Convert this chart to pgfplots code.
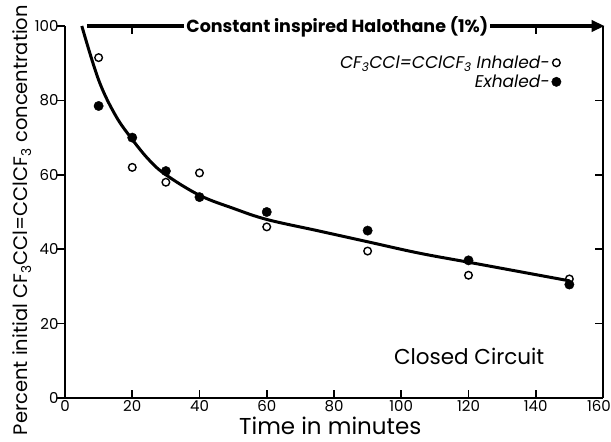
\documentclass[border=0pt]{standalone}
\usepackage{fontspec}
\setmainfont{Poppins}
\usepackage{pgfplots}
\pgfplotsset{compat=1.18}
\usetikzlibrary{arrows.meta}

\begin{document}
\begin{tikzpicture}
\begin{axis}[
  scale only axis,
  width=538pt, height=372pt,
  xmin=0, xmax=160, ymin=0, ymax=100,
  axis x line*=bottom, axis y line*=left,
  axis line style={line width=2.2pt},
  xtick={0,20,...,160}, ytick={0,20,...,100},
  xticklabels={0,20,40,60,80,100,120,140,{\hspace*{-8pt}160}},
  xtick align=inside, ytick align=outside,
  major tick length=8pt,
  every tick/.style={line width=1.6pt, black},
  tick label style={font=\fontsize{15}{17}\selectfont},
  xticklabel style={yshift=1pt},
  yticklabel style={xshift=5pt},
  /pgf/number format/assume math mode=true,
  xlabel={Time in minutes},
  ylabel={Percent initial CF\textsubscript{3}CCl=CClCF\textsubscript{3} concentration},
  xlabel style={font=\fontsize{23}{26}\selectfont,
    at={(rel axis cs:0.493,0)}, anchor=base, yshift=-36pt},
  % the label is already turned by 90 degrees, so yshift moves it sideways
  ylabel style={font=\fontsize{19.5}{22}\selectfont,
    at={(rel axis cs:0,0.478)}, anchor=base, yshift=37pt},
  clip=false,
  legend style={draw=none, fill=none, at={(axis cs:147.6,92.6)}, anchor=north east,
    font=\itshape\fontsize{17}{19}\selectfont, row sep=1pt,
    inner xsep=0pt, inner ysep=0pt},
  legend cell align=right,
  legend plot pos=right,
]
% fitted washout curve
\addplot[smooth, tension=0.6, line width=3pt, forget plot] coordinates {
  (5,100) (10,85.5) (15,76) (20,69.5) (25,64) (30,60) (40,54.5) (50,51)
  (60,48) (75,45) (90,42) (105,39) (120,36.5) (135,34) (150,31.5)};
% inhaled (open) and exhaled (filled) samples
\addplot[only marks, mark=o, mark size=3.8pt, mark options={line width=1.4pt, fill=white}]
  coordinates {(10,91.5) (20,62) (30,58) (40,60.5) (60,46) (90,39.5) (120,33) (150,32)};
\addlegendentry{CF\textsubscript{3}CCl=CClCF\textsubscript{3} Inhaled-}
\addplot[only marks, mark=*, mark size=4.7pt]
  coordinates {(10,78.5) (20,70) (30,61) (40,54) (60,50) (90,45) (120,37) (150,30.5)};
\addlegendentry{Exhaled-}

% right-hand frame line with its inward ticks
\draw[line width=2.2pt] (axis cs:160,0) -- (axis cs:160,100);
\pgfplotsinvokeforeach{20,40,60,80}{
  \draw[line width=1.6pt] (axis cs:160,#1) -- ++(-8pt,0);
}
% top ticks left visible beside the halothane banner
\pgfplotsinvokeforeach{20,140}{
  \draw[line width=1.6pt] (axis cs:#1,100) -- ++(0,-8pt);
}

% constant inspired halothane banner
\draw[line width=3.6pt, -{Triangle[length=13pt,width=11pt]}]
  (axis cs:6.5,100) -- (axis cs:160.5,100);
\node[fill=white, inner xsep=2pt, inner ysep=1pt, anchor=base, yshift=-7pt,
  font=\bfseries\fontsize{17.5}{19}\selectfont] at (axis cs:81,100)
  {Constant inspired Halothane (1\%)};

\node[anchor=base east, font=\fontsize{21.5}{23}\selectfont] at (axis cs:143.6,8.9)
  {Closed Circuit};

\coordinate (bl) at (rel axis cs:0,0);
\coordinate (tr) at (rel axis cs:1,1);
\end{axis}
\pgfresetboundingbox
\path ([shift={(-65pt,-44pt)}]bl) rectangle ([shift={(8pt,26pt)}]tr);
\end{tikzpicture}
\end{document}
